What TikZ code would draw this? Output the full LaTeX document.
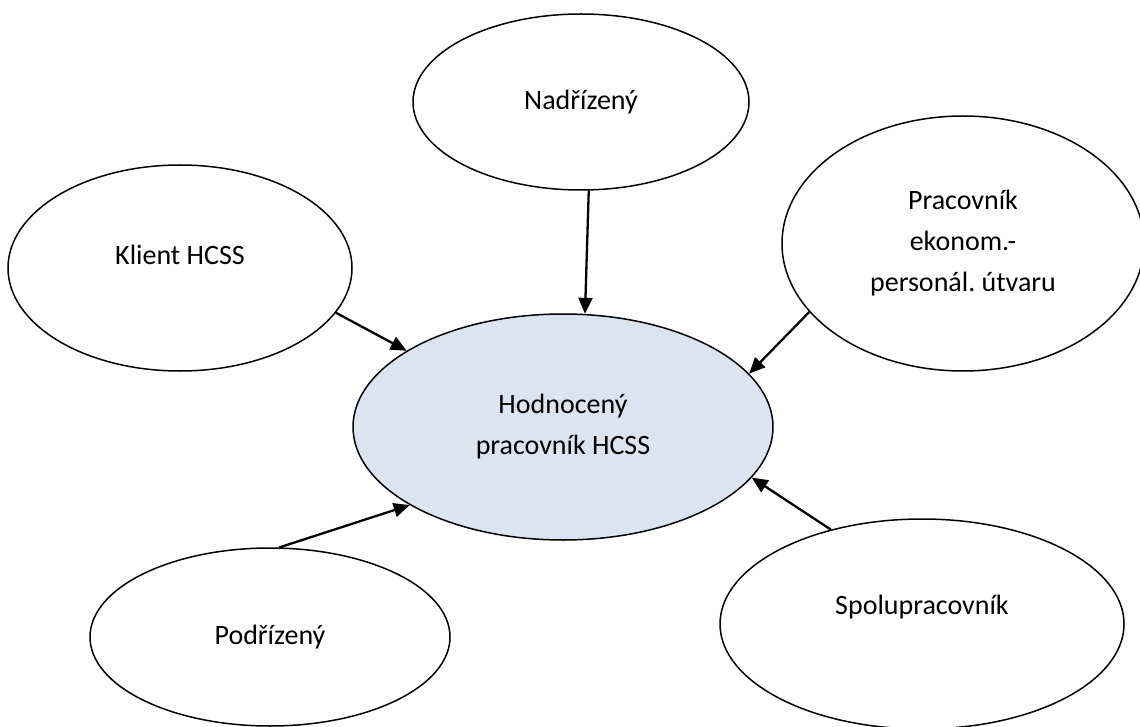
\documentclass[tikz,border=0pt]{standalone}
\usepackage{fontspec}
\setmainfont{Carlito}
\usetikzlibrary{arrows.meta,shapes.geometric}
\definecolor{hcssFill}{HTML}{DBE5F1}

\begin{document}
\begin{tikzpicture}[x=1pt,y=-1pt,font=\fontsize{28}{41}\selectfont,
    role/.style={ellipse,draw,line width=1.5pt,fill=white,inner sep=0pt,align=center},
    rated/.style={role,fill=hcssFill},
    link/.style={-{Triangle[length=16pt,width=14pt]},line width=2.3pt}]
  \useasboundingbox (0,0) rectangle (1140,727);
  \node[rated,minimum width=420pt,minimum height=226pt] (hod) at (563,427) {Hodnocený\\ pracovník HCSS};
  \node[role,minimum width=336pt,minimum height=176pt] (nad) at (581,102) {Nadřízený};
  \node[role,minimum width=344pt,minimum height=206pt,text depth=26pt] (kli) at (180,268) {Klient HCSS};
  \node[role,minimum width=362pt,minimum height=255pt] (eko) at (963,243.5) {Pracovník\\ ekonom.-\\ personál.\ útvaru};
  \node[role,minimum width=360pt,minimum height=178pt] (pod) at (270,637) {Podřízený};
  \node[role,minimum width=404pt,minimum height=210pt,text depth=38pt] (spo) at (922,624) {Spolupracovník};
  \foreach \a/\b in {nad.-85.5/hod.79.5,kli.-16.3/hod.154.7,eko.-156.5/hod.16.8,pod.84.2/hod.-153.1,spo.134.7/hod.-15.5}
    \draw[link] (\a) -- (\b);
\end{tikzpicture}
\end{document}
